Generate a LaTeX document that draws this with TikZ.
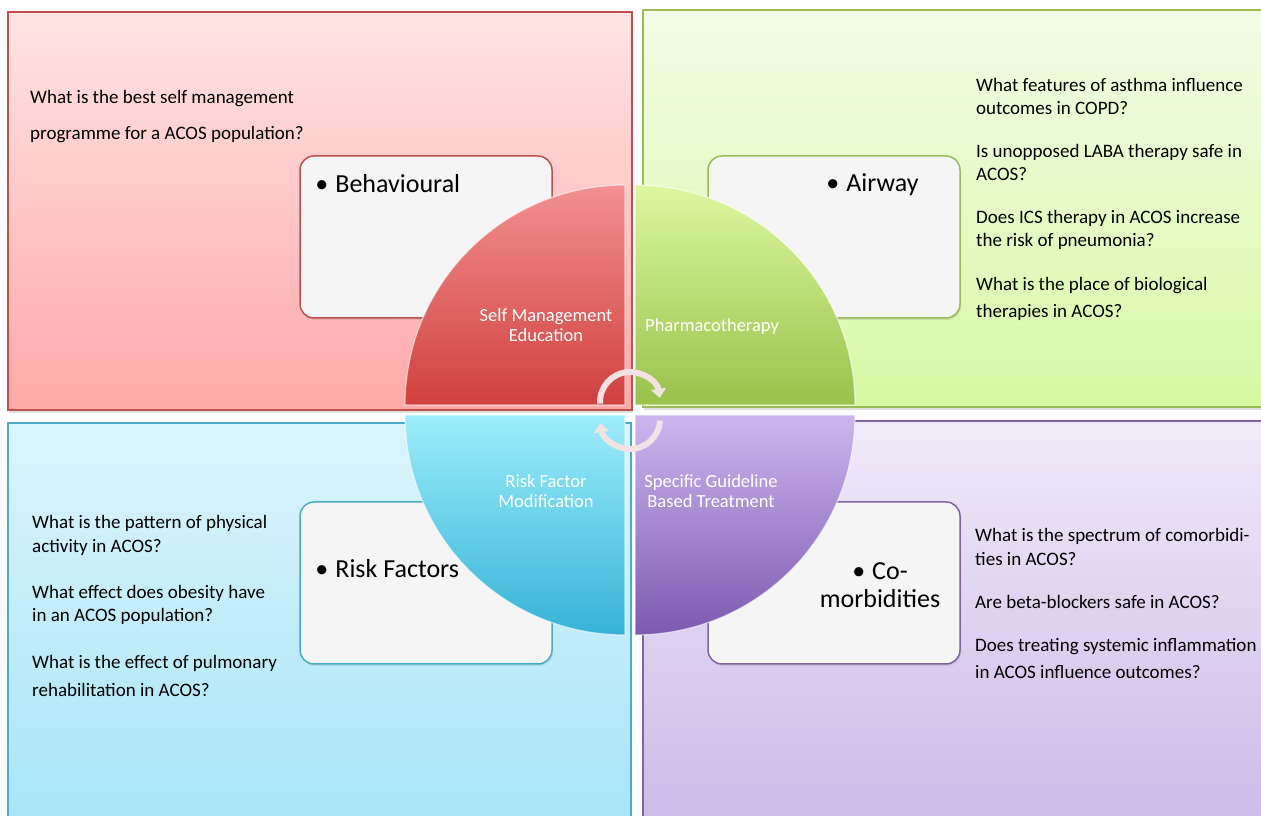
\documentclass[tikz,border=0pt]{standalone}
\usepackage{fontspec}
\setmainfont{Carlito}
\usetikzlibrary{positioning,arrows.meta,shadows}
\definecolor{rd}{HTML}{C0504D}
\definecolor{gr}{HTML}{9BBB59}
\definecolor{bl}{HTML}{4BACC6}
\definecolor{pu}{HTML}{8064A2}
\definecolor{rdA}{HTML}{FFE4E4}\definecolor{rdB}{HTML}{FFA8A8}
\definecolor{grA}{HTML}{F2FCE6}\definecolor{grB}{HTML}{D8F8A4}
\definecolor{blA}{HTML}{DCF5FD}\definecolor{blB}{HTML}{A6E4F8}
\definecolor{puA}{HTML}{F0EAF8}\definecolor{puB}{HTML}{CCB8E8}
\definecolor{rdC}{HTML}{F29090}\definecolor{rdD}{HTML}{D0403E}
\definecolor{grC}{HTML}{DCF8A0}\definecolor{grD}{HTML}{98C24A}
\definecolor{blC}{HTML}{9CEEFB}\definecolor{blD}{HTML}{36B2D8}
\definecolor{puC}{HTML}{CDB6F0}\definecolor{puD}{HTML}{7C5AB0}
\definecolor{ar}{HTML}{F2E2E2}
\tikzset{pane/.style={draw=#1,line width=1.5pt,drop shadow={opacity=0.25,shadow xshift=1pt,shadow yshift=-3pt}},
card/.style={draw=#1,line width=1.5pt,fill=white!96!black,rounded corners=14pt,minimum width=252pt,minimum height=162pt,drop shadow={opacity=0.2,shadow xshift=1pt,shadow yshift=-2pt}},
quart/.style={draw=white,draw opacity=0.6,line width=1.2pt},
ques/.style={align=left,inner sep=0pt,anchor=north west,font=\fontsize{19}{23}\selectfont},
tag/.style={inner sep=0pt,font=\fontsize{26}{28}\selectfont},
qlbl/.style={text=white,inner sep=0pt,font=\fontsize{18.5}{19.5}\selectfont},
cyc/.style={draw=ar,line width=6pt,-{Triangle[width=15pt,length=9pt]}}}

\begin{document}
\begin{tikzpicture}[x=1pt,y=1pt]
    \useasboundingbox (0,0) rectangle (1261,816);
    \clip (0,0) rectangle (1261,816);
    % four coloured panes
    \path[pane=rd,top color=rdA,bottom color=rdB] (8,406) rectangle (632,804);
    \path[pane=gr,top color=grA,bottom color=grB] (643,409) rectangle (1275,806);
    \path[pane=bl,top color=blA,bottom color=blB] (8,393) rectangle (631,-20);
    \path[pane=pu,top color=puA,bottom color=puB] (643,395) rectangle (1275,-20);

    % cards
    \node[card=rd] (cBeh) at (426,579) {};
    \node[card=gr] (cAir) at (834,579) {};
    \node[card=bl] (cRisk) at (426,233) {};
    \node[card=pu] (cCo) at (834,233) {};

    % quarters of the circle
    \coordinate (o1) at (625,411);
    \coordinate (o2) at (635,411);
    \coordinate (o3) at (625,401);
    \coordinate (o4) at (635,401);
    \path[quart,top color=rdC,bottom color=rdD] (o1) -- ++(-220,0) arc[start angle=180,end angle=90,radius=220] -- cycle;
    \path[quart,top color=grC,bottom color=grD] (o2) -- ++(0,220) arc[start angle=90,end angle=0,radius=220] -- cycle;
    \path[quart,top color=blC,bottom color=blD] (o3) -- ++(-220,0) arc[start angle=180,end angle=270,radius=220] -- cycle;
    \path[quart,top color=puC,bottom color=puD] (o4) -- ++(0,-220) arc[start angle=270,end angle=360,radius=220] -- cycle;

    % cycle arrows
    \coordinate (a1) at (630,414);
    \coordinate (a2) at (630,397);
    \draw[cyc] ([shift={(183:30)}]a1) arc[start angle=183,end angle=8,radius=30];
    \draw[cyc] ([shift={(-3:30)}]a2) arc[start angle=-3,end angle=-172,radius=30];

    % labels in the quarters
    \node[qlbl,align=center] (lSelf) at (546,491) {Self Management\\Education};
    \node[qlbl,anchor=west] (lPharm) at (645,489) {Pharmacotherapy};
    \node[qlbl,align=center] (lRisk) at (546,325) {Risk Factor\\Modification};
    \node[qlbl,align=center] (lSpec) at (711,325) {Specific Guideline\\Based Treatment};

    % card titles
    \node[tag,anchor=west] (tBeh) at ([xshift=16pt,yshift=-28pt]cBeh.north west) {\textbullet\hspace{7pt}Behavioural};
    \node[tag,anchor=west] (tAir) at ([xshift=119pt,yshift=-29pt]cAir.north west) {\textbullet\hspace{7pt}Airway};
    \node[tag,anchor=west] (tRisk) at ([xshift=16pt,yshift=-67pt]cRisk.north west) {\textbullet\hspace{7pt}Risk Factors};
    \node[tag,align=center] (tCo) at ([xshift=46pt,yshift=-2pt]cCo.center) {\textbullet\hspace{7pt}Co-\\morbidities};

    % questions
    \node[ques,font=\fontsize{19}{36}\selectfont] (qRd) at (30,726) {What is the best self management\\programme for a ACOS population?};
    \node[ques] (qGr) at (976,738) {What features of asthma influence\\outcomes in COPD?\\[20pt]Is unopposed LABA therapy safe in\\ACOS?\\[20pt]Does ICS therapy in ACOS increase\\the risk of pneumonia?\\[21pt]What is the place of biological\\[4pt]therapies in ACOS?};
    \node[ques] (qBl) at (32,301) {What is the pattern of physical\\[1pt]activity in ACOS?\\[23pt]What effect does obesity have\\in an ACOS population?\\[24pt]What is the effect of pulmonary\\[5pt]rehabilitation in ACOS?};
    \node[ques] (qPu) at (975,288) {What is the spectrum of comorbidi-\\[1pt]ties in ACOS?\\[20pt]Are beta-blockers safe in ACOS?\\[20pt]Does treating systemic inflammation\\[4pt]in ACOS influence outcomes?};
\end{tikzpicture}
\end{document}
